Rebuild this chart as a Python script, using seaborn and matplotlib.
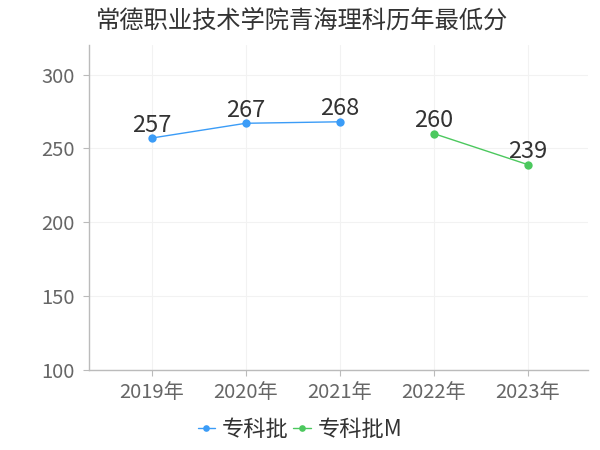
import pandas as pd
import matplotlib
matplotlib.use("Agg")
import matplotlib.pyplot as plt
import seaborn as sns

years = ["2019年", "2020年", "2021年", "2022年", "2023年"]
batch_a_years = ["2019年", "2020年", "2021年"]
batch_a_scores = [257, 267, 268]
batch_b_years = ["2022年", "2023年"]
batch_b_scores = [260, 239]
batches = ["专科批", "专科批M"]
colors = ["#3b9cf7", "#4cc85e"]

sns.set_theme(style="white")
plt.rcParams["font.family"] = ["Noto Sans CJK SC", "DejaVu Sans"]

df = pd.DataFrame({
    "year": batch_a_years + batch_b_years,
    "score": batch_a_scores + batch_b_scores,
    "batch": [batches[0]] * len(batch_a_years) + [batches[1]] * len(batch_b_years),
})
df["pos"] = df["year"].map({y: i for i, y in enumerate(years)})

fig = plt.figure(figsize=(6, 4.5), dpi=100)
ax = fig.add_axes([0.148, 0.178, 0.832, 0.722])

sns.lineplot(data=df, x="pos", y="score", hue="batch", palette=colors,
             marker="o", markersize=6, markeredgewidth=0, linewidth=1,
             ax=ax, legend=True)

for _, r in df.iterrows():
    ax.annotate(str(r["score"]), (r["pos"], r["score"]), xytext=(0, 1),
                textcoords="offset points", ha="center", va="bottom",
                fontsize=17, color="#333333")

ax.set_xlim(-0.67, 4.64)
ax.set_ylim(100, 320)
ax.set_yticks([100, 150, 200, 250, 300])
ax.set_xticks(range(len(years)))
ax.set_xticklabels(years)
ax.set_xlabel("")
ax.set_ylabel("")
ax.tick_params(axis="both", labelsize=14.5, colors="#666666", length=4,
               width=0.8, direction="out", bottom=True, left=True)
ax.tick_params(axis="x", pad=5)
ax.tick_params(axis="y", pad=6)
ax.tick_params(axis="both", color="#bbbbbb")

ax.grid(True, color="#f2f2f2", linewidth=0.8)
for s in ["top", "right"]:
    ax.spines[s].set_visible(False)
for s in ["left", "bottom"]:
    ax.spines[s].set_color("#bbbbbb")
    ax.spines[s].set_linewidth(1)

handles, labels = ax.get_legend_handles_labels()
ax.get_legend().remove()
fig.legend(handles, labels, loc="lower center", bbox_to_anchor=(0.5, -0.025),
           ncol=2, frameon=False, fontsize=16, handlelength=0.8,
           handletextpad=0.3, columnspacing=0.2, markerscale=0.8,
           labelcolor="#333333")

fig.text(0.16, 0.955, "常德职业技术学院青海理科历年最低分", ha="left", va="center",
         fontsize=17.5, color="#333333")

fig.savefig("out.png", dpi=100)
